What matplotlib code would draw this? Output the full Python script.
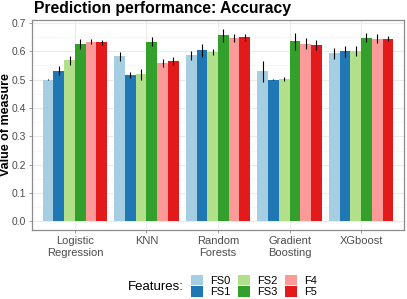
import numpy as np
import matplotlib
matplotlib.use("Agg")
import matplotlib.pyplot as plt
from matplotlib.patches import Patch

plt.rcParams["font.family"] = ["Liberation Sans", "DejaVu Sans"]

# ===============================================
# Data
# ===============================================

models = ["Logistic\nRegression", "KNN", "Random\nForests", "Gradient\nBoosting", "XGboost"]
features = ["FS0", "FS1", "FS2", "FS3", "F4", "F5"]
colors = ["#A6CEE3", "#1F78B4", "#B2DF8A", "#33A02C", "#FB9A99", "#E31A1C"]

fs0 = [0.500, 0.582, 0.585, 0.529, 0.592]
fs1 = [0.532, 0.516, 0.604, 0.500, 0.600]
fs2 = [0.568, 0.519, 0.597, 0.502, 0.600]
fs3 = [0.626, 0.633, 0.656, 0.635, 0.648]
f4 = [0.634, 0.559, 0.646, 0.627, 0.644]
f5 = [0.631, 0.566, 0.649, 0.623, 0.644]

fs0_err = [0.001, 0.015, 0.015, 0.038, 0.018]
fs1_err = [0.015, 0.010, 0.023, 0.002, 0.020]
fs2_err = [0.015, 0.020, 0.012, 0.008, 0.018]
fs3_err = [0.018, 0.016, 0.023, 0.030, 0.016]
f4_err = [0.010, 0.015, 0.015, 0.020, 0.016]
f5_err = [0.010, 0.015, 0.013, 0.018, 0.008]

values = [fs0, fs1, fs2, fs3, f4, f5]
errors = [fs0_err, fs1_err, fs2_err, fs3_err, f4_err, f5_err]

# ===============================================
# Plot
# ===============================================

fig = plt.figure(figsize=(4.07, 2.99), dpi=100)
ax = fig.add_axes([32 / 407, 1 - 230 / 299, 372 / 407, 210 / 299])

x = np.arange(1, len(models) + 1)
width = 0.9 / len(features)

for i, (vals, errs) in enumerate(zip(values, errors)):
    pos = x - 0.45 + width * (i + 0.5)
    ax.bar(pos, vals, width=width, color=colors[i], zorder=2)
    ax.errorbar(pos, vals, yerr=errs, fmt="none", ecolor="black",
                elinewidth=0.8, capsize=0, zorder=3)

ax.set_xlim(0.4, 5.6)
ax.set_ylim(-0.03, 0.71)
ax.set_xticks(x)
ax.set_xticklabels(models)
ax.set_yticks(np.arange(0, 0.71, 0.1))
ax.set_yticklabels([f"{v:.1f}" for v in np.arange(0, 0.71, 0.1)])
ax.set_yticks(np.arange(0.05, 0.71, 0.1), minor=True)

ax.grid(True, which="major", color="#EBEBEB", linewidth=0.8, zorder=0)
ax.grid(True, which="minor", axis="y", color="#F3F3F3", linewidth=0.5, zorder=0)
ax.set_axisbelow(True)

for spine in ax.spines.values():
    spine.set_color("#8C8C8C")
    spine.set_linewidth(0.9)

ax.tick_params(axis="both", which="major", colors="#8C8C8C", labelcolor="#4D4D4D",
               labelsize=7.5, length=2.5, width=0.6, pad=2)
ax.tick_params(axis="x", which="major", labelsize=8)
ax.tick_params(axis="both", which="minor", length=0)

ax.set_ylabel("Value of measure", fontsize=9, fontweight="bold")
ax.yaxis.set_label_coords(-20 / 372, 0.5)
fig.text(34 / 407, 1 - 9 / 299, "Prediction performance: Accuracy",
         fontsize=11.3, fontweight="bold", ha="left", va="center")

# Legend
handles = [Patch(facecolor=c, edgecolor="none") for c in colors]
fig.legend(handles, features, ncol=3, loc="center left",
           bbox_to_anchor=(191 / 407, 1 - 286 / 299), frameon=False,
           fontsize=8, handlelength=1.1, handleheight=1.1,
           handletextpad=0.6, columnspacing=0.7, labelspacing=0.05,
           borderpad=0, borderaxespad=0)
fig.text(184 / 407, 1 - 287 / 299, "Features:", fontsize=9.5,
         ha="right", va="center")

plt.savefig("out.png", dpi=100)
plt.close()
